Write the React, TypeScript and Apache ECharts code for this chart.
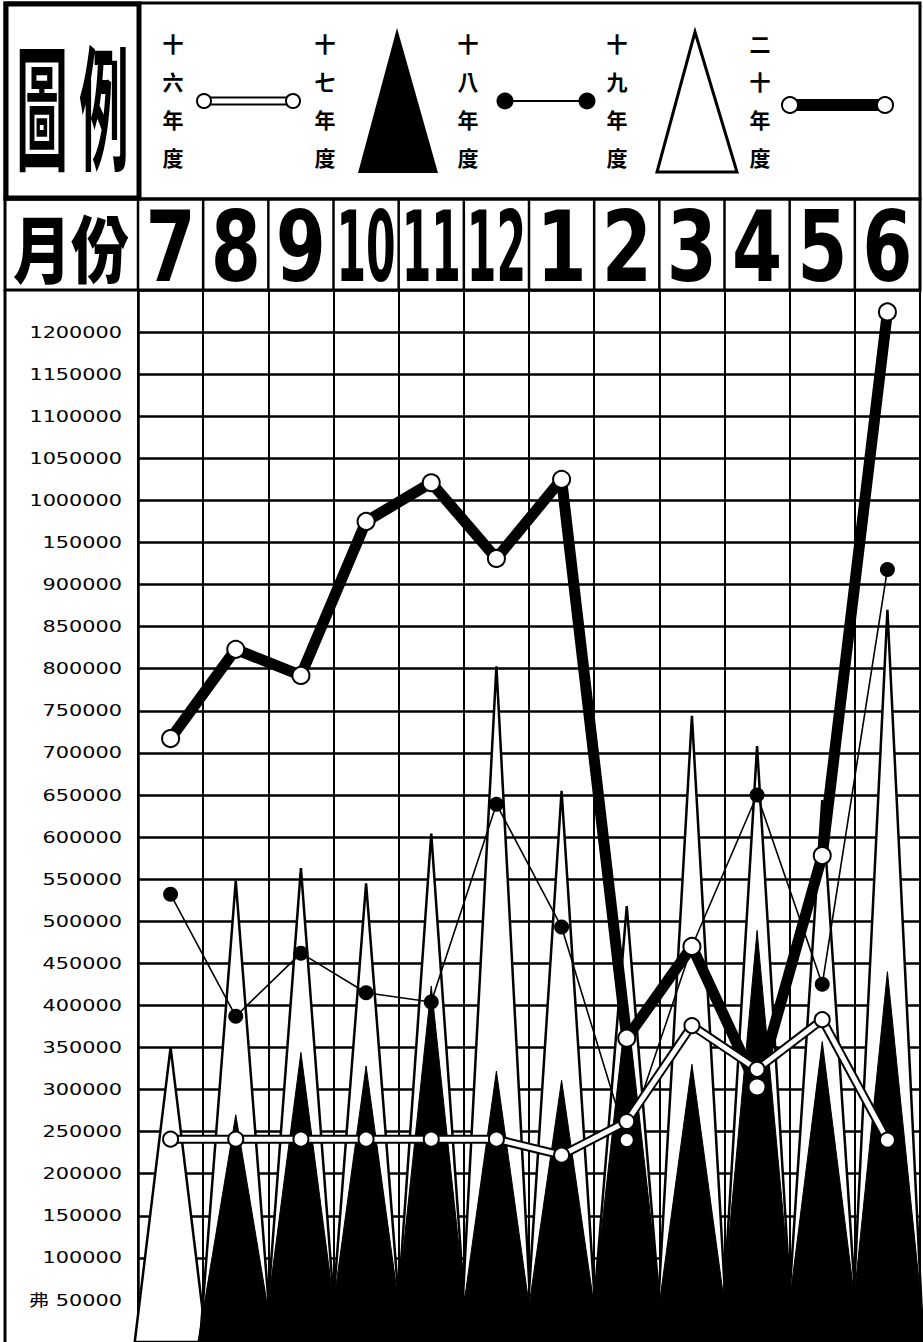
import React, { useEffect, useRef } from 'react';
import * as echarts from 'echarts';

// ---- data ----
const months = ['7', '8', '9', '10', '11', '12', '1', '2', '3', '4', '5', '6'];
const legendNames = ['十六年度', '十七年度', '十八年度', '十九年度', '二十年度'];
const yTickValues = [50000, 100000, 150000, 200000, 250000, 300000, 350000, 400000, 450000, 500000, 550000, 600000, 650000, 700000, 750000, 800000, 850000, 900000, 950000, 1000000, 1050000, 1100000, 1150000, 1200000];
const yTickLabels = ['弗 50000', '100000', '150000', '200000', '250000', '300000', '350000', '400000', '450000', '500000', '550000', '600000', '650000', '700000', '750000', '800000', '850000', '900000', '150000', '1000000', '1050000', '1100000', '1150000', '1200000'];

// 十六年度 (white band line)
const y16 = [241000, 241000, 241000, 241000, 241000, 241000, 222000, 262000, 376000, 324000, 383000, 240000];
// 十七年度 (black triangles)
const y17: (number | null)[] = [null, 270000, 344000, 328000, 423000, 322000, 311000, 402000, 330000, 489000, 357000, 440000];
// 十八年度 (thin line, black dots)
const y18 = [532000, 387000, 462000, 415000, 404000, 639000, 493000, 240000, 470000, 650000, 425000, 918000];
const y18OpenMarks = [7];
// 十九年度 (white triangles)
const y19 = [350000, 548000, 563000, 545000, 604000, 803000, 655000, 518000, 744000, 708000, 644000, 870000];
// 二十年度 (thick black line)
const y20 = [717000, 823000, 792000, 975000, 1021000, 931000, 1025000, 361000, 470000, 303000, 578000, 1224000];

const CJK = '"Noto Sans CJK TC", "Noto Sans CJK JP", sans-serif';

function triSeries(name: string, data: (number | null)[], fill: string, stroke: string, lw: number, k: number, z: number) {
  return {
    type: 'custom',
    name,
    z,
    clip: false,
    encode: { x: 0, y: 1 },
    data: data.map((v, i) => (v == null ? null : [i, v])).filter((d) => d != null),
    renderItem: (params: any, api: any) => {
      const i = api.value(0);
      const v = api.value(1);
      const top = api.coord([i, v]);
      const base = api.coord([i, 0]);
      const w = api.size([1, 0])[0];
      return {
        type: 'polygon',
        shape: { points: [[top[0] - w * k, base[1]], top, [top[0] + w * k, base[1]]] },
        style: { fill, stroke, lineWidth: lw },
      };
    },
  };
}

export default function App() {
  const ref = useRef<HTMLDivElement>(null);
  useEffect(() => {
    if (!ref.current) return;
    const chart = echarts.init(ref.current, undefined, { renderer: 'svg' });
    const option: any = {
      animation: false,
      backgroundColor: '#fff',
      grid: { left: 138, top: 290, width: 782, height: 1055 },
      xAxis: {
        type: 'category',
        data: months,
        boundaryGap: true,
        axisLabel: { show: false },
        axisTick: { show: false },
        axisLine: { show: false },
        splitLine: { show: true, interval: 0, lineStyle: { color: '#000', width: 2 } },
      },
      yAxis: {
        type: 'value',
        min: 0,
        max: 1250000,
        interval: 50000,
        axisLabel: { show: false },
        axisTick: { show: false },
        axisLine: { show: true, lineStyle: { color: '#000', width: 2.5 } },
        splitLine: { show: true, lineStyle: { color: '#000', width: 2.5 } },
      },
      series: [
        triSeries(legendNames[3], y19, '#fff', '#000', 2.5, 0.55, 2),
        triSeries(legendNames[1], y17, '#000', '#000', 1, 0.58, 2),
        {
          type: 'line',
          name: legendNames[2],
          z: 3,
          data: y18.map((v, i) =>
            y18OpenMarks.includes(i)
              ? { value: v, itemStyle: { color: '#fff', borderColor: '#000', borderWidth: 3 } }
              : v
          ),
          symbol: 'circle',
          symbolSize: 15,
          lineStyle: { color: '#000', width: 1.6 },
          itemStyle: { color: '#000', borderColor: '#000', borderWidth: 0 },
        },
        {
          type: 'line',
          name: legendNames[4],
          z: 4,
          data: y20,
          symbol: 'circle',
          symbolSize: 17,
          lineStyle: { color: '#000', width: 11, join: 'round' },
          itemStyle: { color: '#fff', borderColor: '#000', borderWidth: 2 },
        },
        {
          type: 'line',
          name: legendNames[0] + '-outline',
          z: 5,
          data: y16,
          symbol: 'none',
          lineStyle: { color: '#000', width: 9 },
        },
        {
          type: 'line',
          name: legendNames[0],
          z: 5,
          data: y16,
          symbol: 'circle',
          symbolSize: 15,
          lineStyle: { color: '#fff', width: 5 },
          itemStyle: { color: '#fff', borderColor: '#000', borderWidth: 2 },
        },
      ],
    };
    chart.setOption(option);

    const cx = months.map((_, i) => chart.convertToPixel({ xAxisIndex: 0 }, i) as number);
    const colW = cx[1] - cx[0];
    const gL = cx[0] - colW / 2;
    const gR = cx[cx.length - 1] + colW / 2;
    const yPix = (v: number) => chart.convertToPixel({ yAxisIndex: 0 }, v) as number;

    const g: any[] = [];
    // frames
    g.push({ type: 'rect', shape: { x: 5, y: 3, width: gR - 5, height: 196 }, style: { fill: 'none', stroke: '#000', lineWidth: 3 } });
    g.push({ type: 'rect', shape: { x: 6, y: 4, width: gL - 5, height: 194 }, style: { fill: 'none', stroke: '#000', lineWidth: 5 } });
    g.push({ type: 'rect', shape: { x: 5, y: 199, width: gR - 5, height: 91 }, style: { fill: 'none', stroke: '#000', lineWidth: 3 } });
    g.push({ type: 'line', shape: { x1: 5, y1: 290, x2: 5, y2: 1342 }, style: { stroke: '#000', lineWidth: 3 } });
    for (let i = 0; i < months.length; i++) {
      const bx = cx[i] - colW / 2;
      g.push({ type: 'line', shape: { x1: bx, y1: 199, x2: bx, y2: 290 }, style: { stroke: '#000', lineWidth: 2.5 } });
    }
    // 圖例 seal
    g.push({ type: 'text', x: 42, y: 101, scaleY: 2.6, style: { text: '圖', font: `bold 52px ${CJK}`, fill: '#000', align: 'center', verticalAlign: 'middle' } });
    g.push({ type: 'text', x: 104, y: 101, scaleY: 2.6, scaleX: 0.95, style: { text: '例', font: `bold 52px ${CJK}`, fill: '#000', align: 'center', verticalAlign: 'middle' } });
    // 月份
    g.push({ type: 'text', x: 71, y: 246, scaleY: 1.25, style: { text: '月份', font: `900 58px ${CJK}`, fill: '#000', align: 'center', verticalAlign: 'middle' } });
    // month numbers
    months.forEach((m, i) => {
      g.push({
        type: 'text', x: cx[i], y: 247, scaleY: 1.3, scaleX: m.length > 1 ? 0.56 : 0.95,
        style: { text: m, font: 'bold 76px "DejaVu Sans", sans-serif', fill: '#000', align: 'center', verticalAlign: 'middle' },
      });
    });
    // y tick labels
    yTickValues.forEach((v, i) => {
      g.push({
        type: 'text', x: 122, y: yPix(v), scaleX: 1.3,
        style: { text: yTickLabels[i], font: '16px "DejaVu Sans", "Noto Sans CJK JP", sans-serif', fill: '#000', align: 'right', verticalAlign: 'middle' },
      });
    });
    // legend texts
    const lx = [173, 325, 468, 617, 760];
    legendNames.forEach((n, i) => {
      g.push({
        type: 'text', x: lx[i], y: 100,
        style: { text: n.split('').join('\n'), font: `bold 21px ${CJK}`, lineHeight: 38, fill: '#000', align: 'center', verticalAlign: 'middle' },
      });
    });
    // legend symbols
    g.push({ type: 'line', shape: { x1: 204, y1: 101, x2: 293, y2: 101 }, style: { stroke: '#000', lineWidth: 9 } });
    g.push({ type: 'line', shape: { x1: 204, y1: 101, x2: 293, y2: 101 }, style: { stroke: '#fff', lineWidth: 5 } });
    g.push({ type: 'circle', shape: { cx: 204, cy: 101, r: 7 }, style: { fill: '#fff', stroke: '#000', lineWidth: 2 } });
    g.push({ type: 'circle', shape: { cx: 293, cy: 101, r: 7 }, style: { fill: '#fff', stroke: '#000', lineWidth: 2 } });
    g.push({ type: 'polygon', shape: { points: [[397, 28], [358, 173], [438, 173]] }, style: { fill: '#000' } });
    g.push({ type: 'line', shape: { x1: 505, y1: 101, x2: 587, y2: 101 }, style: { stroke: '#000', lineWidth: 2 } });
    g.push({ type: 'circle', shape: { cx: 505, cy: 101, r: 8.5 }, style: { fill: '#000' } });
    g.push({ type: 'circle', shape: { cx: 587, cy: 101, r: 8.5 }, style: { fill: '#000' } });
    g.push({ type: 'polygon', shape: { points: [[695, 32], [657, 172], [737, 172]] }, style: { fill: '#fff', stroke: '#000', lineWidth: 3 } });
    g.push({ type: 'line', shape: { x1: 790, y1: 105, x2: 885, y2: 105 }, style: { stroke: '#000', lineWidth: 12 } });
    g.push({ type: 'circle', shape: { cx: 790, cy: 105, r: 8 }, style: { fill: '#fff', stroke: '#000', lineWidth: 2 } });
    g.push({ type: 'circle', shape: { cx: 885, cy: 105, r: 8 }, style: { fill: '#fff', stroke: '#000', lineWidth: 2 } });

    chart.setOption({ graphic: g });
    return () => chart.dispose();
  }, []);
  return (
    <div
      ref={ref}
      style={{ position: 'absolute', left: 0, top: 0, width: 923, height: 1342, background: '#fff' }}
    />
  );
}
